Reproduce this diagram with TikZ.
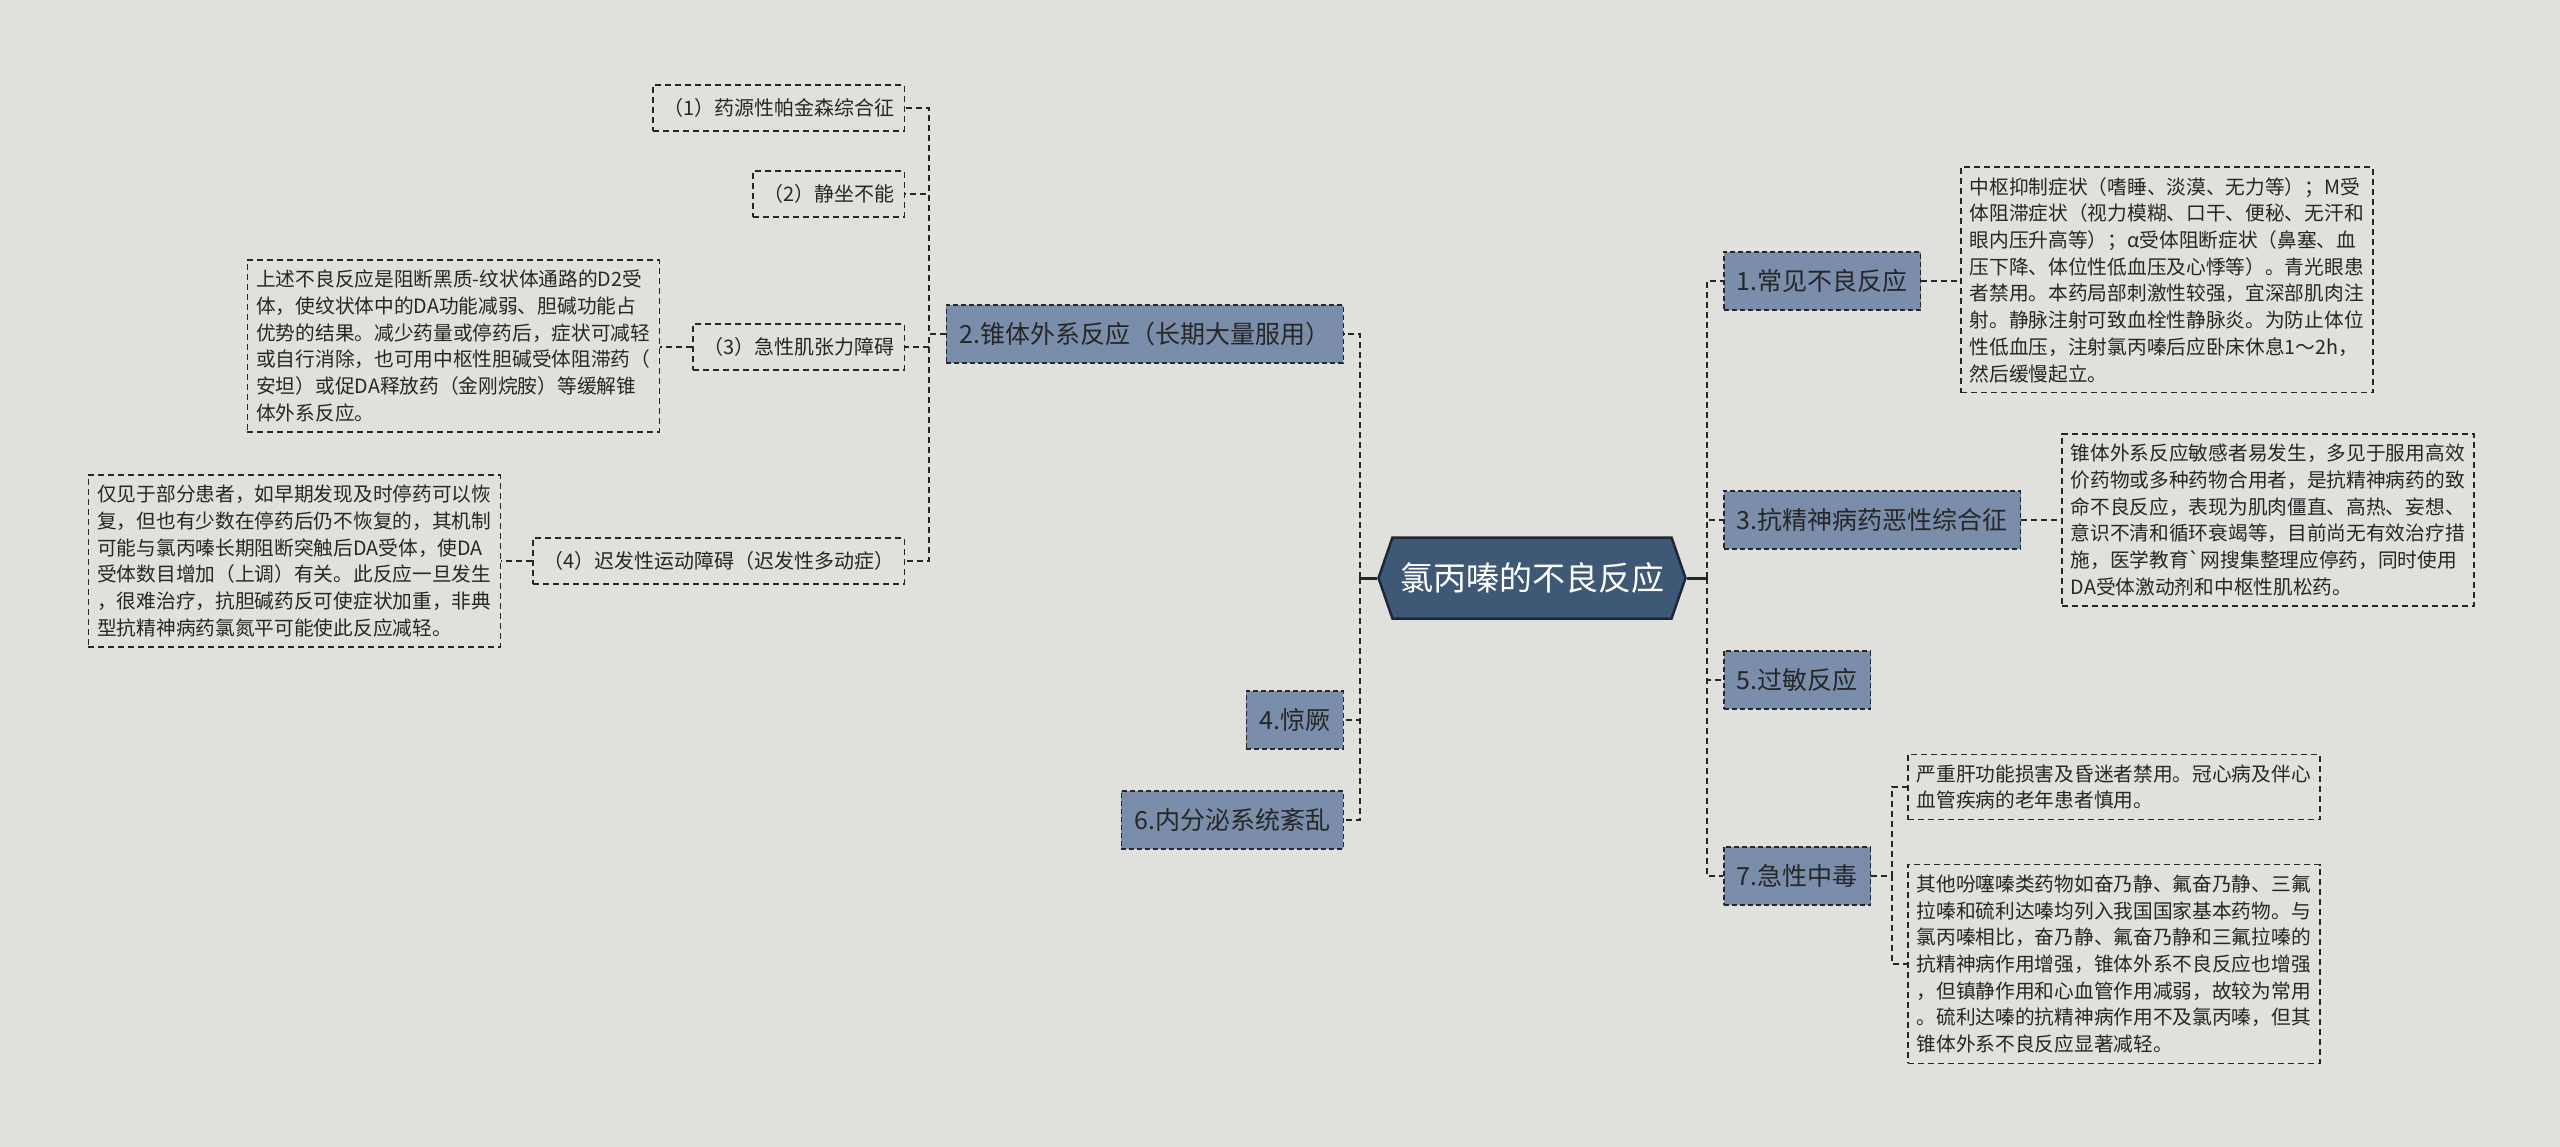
\documentclass[tikz,border=0pt]{standalone}
\usepackage{fontspec}
\setmainfont{Noto Sans CJK SC}
\usetikzlibrary{shapes.symbols}
\definecolor{bgcol}{RGB}{224,225,220}
\definecolor{rootfill}{RGB}{63,88,118}
\definecolor{rootline}{RGB}{28,40,56}
\definecolor{branchfill}{RGB}{122,142,172}
\definecolor{inkcol}{RGB}{38,38,38}
\tikzset{
  conn/.style={draw=inkcol,line width=1.8pt,dash pattern=on 6pt off 4pt},
  rootlink/.style={draw=inkcol,line width=3pt},
  rootbox/.style={signal,signal to=west and east,signal pointer angle=142,
    fill=rootfill,draw=rootline,line width=2.5pt,text=white,
    minimum width=307pt,minimum height=81pt,inner sep=2pt,
    font=\fontsize{33}{40}\selectfont},
  branch/.style={rectangle,fill=branchfill,draw=inkcol,line width=1.5pt,
    dash pattern=on 5pt off 3pt,text=inkcol,minimum height=58pt,
    inner xsep=13pt,font=\fontsize{25}{30}\selectfont},
  leaf/.style={rectangle,draw=inkcol,line width=1.5pt,dash pattern=on 6pt off 4pt,
    text=inkcol,minimum height=46pt,inner xsep=10pt,
    font=\fontsize{20}{24}\selectfont},
  note/.style={rectangle,draw=inkcol,line width=1.5pt,dash pattern=on 6pt off 4pt,
    text=inkcol,align=left,inner xsep=9pt,inner ysep=10pt,
    font=\fontsize{19.7}{26.7}\selectfont}
}
\begin{document}
\begin{tikzpicture}[x=1pt,y=-1pt]
  \fill[bgcol] (0,0) rectangle (2560,1147);
  \useasboundingbox (0,0) rectangle (2560,1147);
  % centre
  \node[rootbox] (root) at (1532,578) {氯丙嗪的不良反应};
  \coordinate (lt) at ([xshift=-17pt]root.west);
  \coordinate (rt) at ([xshift=20pt]root.east);
  \draw[rootlink] (root.west) -- (lt);
  \draw[rootlink] (root.east) -- (rt);
  % left branches
  \node[branch,anchor=east] (b2) at (1344,334) {2.锥体外系反应（长期大量服用）};
  \node[branch,anchor=east] (b4) at (1344,720) {4.惊厥};
  \node[branch,anchor=east] (b6) at (1344,820) {6.内分泌系统紊乱};
  \foreach \b in {b2,b4,b6} \draw[conn] (lt) |- (\b.east);
  % right branches
  \node[branch,anchor=west] (b1) at (1723,281) {1.常见不良反应};
  \node[branch,anchor=west] (b3) at (1723,520) {3.抗精神病药恶性综合征};
  \node[branch,anchor=west] (b5) at (1723,680) {5.过敏反应};
  \node[branch,anchor=west] (b7) at (1723,876) {7.急性中毒};
  \foreach \b in {b1,b3,b5,b7} \draw[conn] (rt) |- (\b.west);
  % children of branch 2
  \node[leaf,anchor=east] (l1) at (905,108) {（1）药源性帕金森综合征};
  \node[leaf,anchor=east] (l2) at (905,194) {（2）静坐不能};
  \node[leaf,anchor=east] (l3) at (905,347) {（3）急性肌张力障碍};
  \node[leaf,anchor=east] (l4) at (905,561) {（4）迟发性运动障碍（迟发性多动症）};
  \foreach \l in {l1,l2,l3,l4} \draw[conn] (b2.west) -- ++(-17,0) |- (\l.east);
  \node[note,anchor=east] (nl3) at (660,346) {上述不良反应是阻断黑质-纹状体通路的D2受\\体，使纹状体中的DA功能减弱、胆碱功能占\\优势的结果。减少药量或停药后，症状可减轻\\或自行消除，也可用中枢性胆碱受体阻滞药（\\安坦）或促DA释放药（金刚烷胺）等缓解锥\\体外系反应。};
  \node[note,anchor=east] (nl4) at (501,561) {仅见于部分患者，如早期发现及时停药可以恢\\复，但也有少数在停药后仍不恢复的，其机制\\可能与氯丙嗪长期阻断突触后DA受体，使DA\\受体数目增加（上调）有关。此反应一旦发生\\，很难治疗，抗胆碱药反可使症状加重，非典\\型抗精神病药氯氮平可能使此反应减轻。};
  \draw[conn] (l3.west) -- (nl3.east |- l3.west);
  \draw[conn] (l4.west) -- (nl4.east);
  % notes on the right
  \node[note,anchor=west] (n1) at (1960,280) {中枢抑制症状（嗜睡、淡漠、无力等）；M受\\体阻滞症状（视力模糊、口干、便秘、无汗和\\眼内压升高等）；α受体阻断症状（鼻塞、血\\压下降、体位性低血压及心悸等）。青光眼患\\者禁用。本药局部刺激性较强，宜深部肌肉注\\射。静脉注射可致血栓性静脉炎。为防止体位\\性低血压，注射氯丙嗪后应卧床休息1～2h，\\然后缓慢起立。};
  \node[note,anchor=west] (n3) at (2061,520) {锥体外系反应敏感者易发生，多见于服用高效\\价药物或多种药物合用者，是抗精神病药的致\\命不良反应，表现为肌肉僵直、高热、妄想、\\意识不清和循环衰竭等，目前尚无有效治疗措\\施，医学教育\textasciigrave 网搜集整理应停药，同时使用\\DA受体激动剂和中枢性肌松药。};
  \draw[conn] (b1.east) -- (n1.west |- b1.east);
  \draw[conn] (b3.east) -- (n3.west);
  \node[note,anchor=west] (n7a) at (1907,787) {严重肝功能损害及昏迷者禁用。冠心病及伴心\\血管疾病的老年患者慎用。};
  \node[note,anchor=west] (n7b) at (1907,964) {其他吩噻嗪类药物如奋乃静、氟奋乃静、三氟\\拉嗪和硫利达嗪均列入我国国家基本药物。与\\氯丙嗪相比，奋乃静、氟奋乃静和三氟拉嗪的\\抗精神病作用增强，锥体外系不良反应也增强\\，但镇静作用和心血管作用减弱，故较为常用\\。硫利达嗪的抗精神病作用不及氯丙嗪，但其\\锥体外系不良反应显著减轻。};
  \foreach \n in {n7a,n7b} \draw[conn] (b7.east) -- ++(21,0) |- (\n.west);
\end{tikzpicture}
\end{document}
